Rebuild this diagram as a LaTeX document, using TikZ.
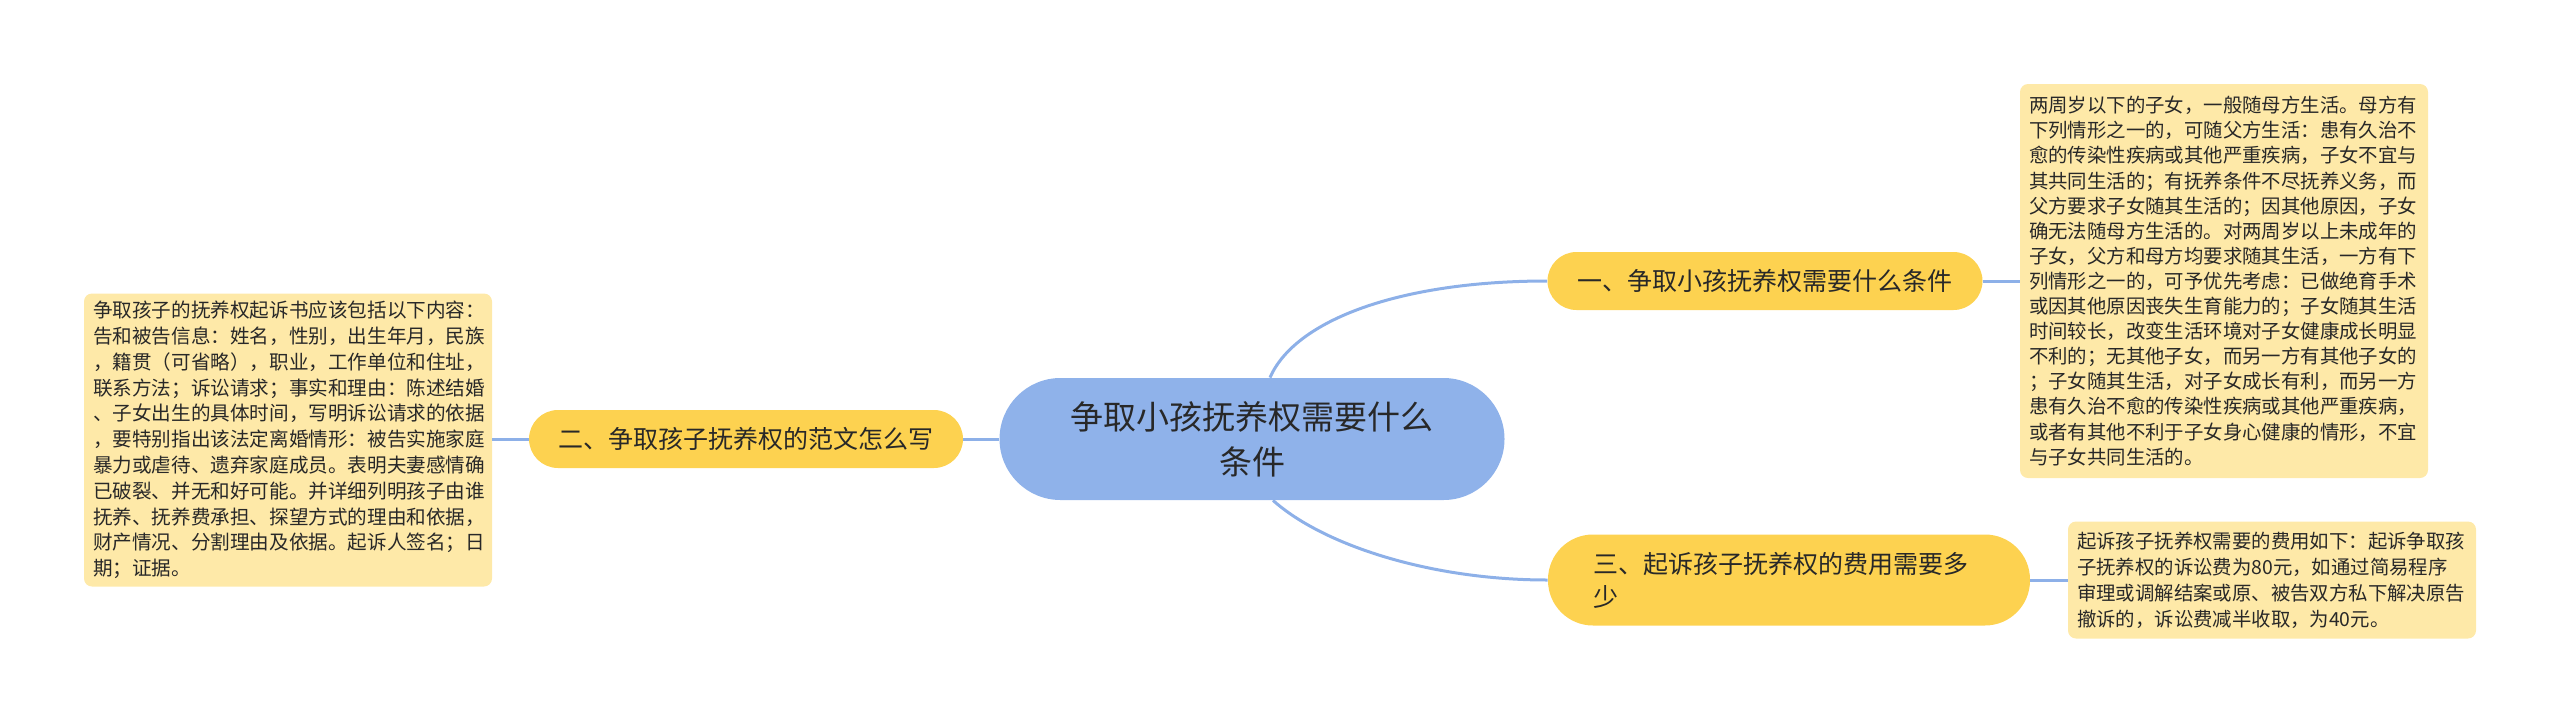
\documentclass[tikz,border=0pt]{standalone}
\usepackage{fontspec}
\usepackage{xcolor}
\setmainfont{Noto Sans CJK SC}
\definecolor{rootblue}{RGB}{143,178,234}
\definecolor{linkblue}{RGB}{141,176,232}
\definecolor{branchgold}{RGB}{253,210,80}
\definecolor{leafpale}{RGB}{254,233,168}
\definecolor{inkgray}{RGB}{40,40,40}

\begin{document}
\begin{tikzpicture}[x=0.5pt,y=-0.5pt,
  every node/.style={text=inkgray,inner sep=0pt},
  rootnode/.style={fill=rootblue,rounded corners=30.5pt,minimum width=252.5pt,minimum height=61pt,align=center,font=\fontsize{16.5}{22.5}\selectfont},
  branch/.style={fill=branchgold,rounded corners=14.5pt,minimum height=29pt,font=\fontsize{12.5}{16.5}\selectfont},
  leaf/.style={fill=leafpale,rounded corners=4pt,align=left,text width=195pt,minimum width=204pt,font=\fontsize{9.7}{12.55}\selectfont},
  link/.style={draw=linkblue,line width=1.5pt}]
\useasboundingbox (0,0) rectangle (2560,724);
\node[rootnode] (root) at (1252,439) {争取小孩抚养权需要什么\\条件};
\node[branch,minimum width=217.5pt] (b1) at (1765,281) {一、争取小孩抚养权需要什么条件};
\node[branch,minimum width=217pt] (b2) at (746,439) {二、争取孩子抚养权的范文怎么写};
\node[branch,minimum width=241pt,minimum height=45.5pt,rounded corners=22.5pt,text width=196pt,align=left] (b3) at (1789,580) {三、起诉孩子抚养权的费用需要多\\少};
\node[leaf,minimum height=197pt] (l1) at (2224,281) {两周岁以下的子女，一般随母方生活。母方有\\下列情形之一的，可随父方生活：患有久治不\\愈的传染性疾病或其他严重疾病，子女不宜与\\其共同生活的；有抚养条件不尽抚养义务，而\\父方要求子女随其生活的；因其他原因，子女\\确无法随母方生活的。对两周岁以上未成年的\\子女，父方和母方均要求随其生活，一方有下\\列情形之一的，可予优先考虑：已做绝育手术\\或因其他原因丧失生育能力的；子女随其生活\\时间较长，改变生活环境对子女健康成长明显\\不利的；无其他子女，而另一方有其他子女的\\；子女随其生活，对子女成长有利，而另一方\\患有久治不愈的传染性疾病或其他严重疾病，\\或者有其他不利于子女身心健康的情形，不宜\\与子女共同生活的。};
\node[leaf,minimum height=146.5pt,font=\fontsize{9.8}{12.9}\selectfont] (l2) at (288,440) {争取孩子的抚养权起诉书应该包括以下内容：\\告和被告信息：姓名，性别，出生年月，民族\\，籍贯（可省略），职业，工作单位和住址，\\联系方法；诉讼请求；事实和理由：陈述结婚\\、子女出生的具体时间，写明诉讼请求的依据\\，要特别指出该法定离婚情形：被告实施家庭\\暴力或虐待、遗弃家庭成员。表明夫妻感情确\\已破裂、并无和好可能。并详细列明孩子由谁\\抚养、抚养费承担、探望方式的理由和依据，\\财产情况、分割理由及依据。起诉人签名；日\\期；证据。};
\node[leaf,minimum height=58.5pt,font=\fontsize{9.7}{13}\selectfont] (l3) at (2272,580) {起诉孩子抚养权需要的费用如下：起诉争取孩\\子抚养权的诉讼费为80元，如通过简易程序\\审理或调解结案或原、被告双方私下解决原告\\撤诉的，诉讼费减半收取，为40元。};
\draw[link] ([xshift=9pt]root.north) .. controls (1295,320) and (1400,281) .. (b1.west);
\draw[link] ([xshift=10.5pt]root.south) .. controls (1323,545) and (1430,580) .. (b3.west);
\draw[link] (root.west) -- (b2.east);
\draw[link] (b1.east) -- (l1.west);
\draw[link] (b2.west) -- (b2.west -| l2.east);
\draw[link] (b3.east) -- (l3.west);
\end{tikzpicture}
\end{document}
